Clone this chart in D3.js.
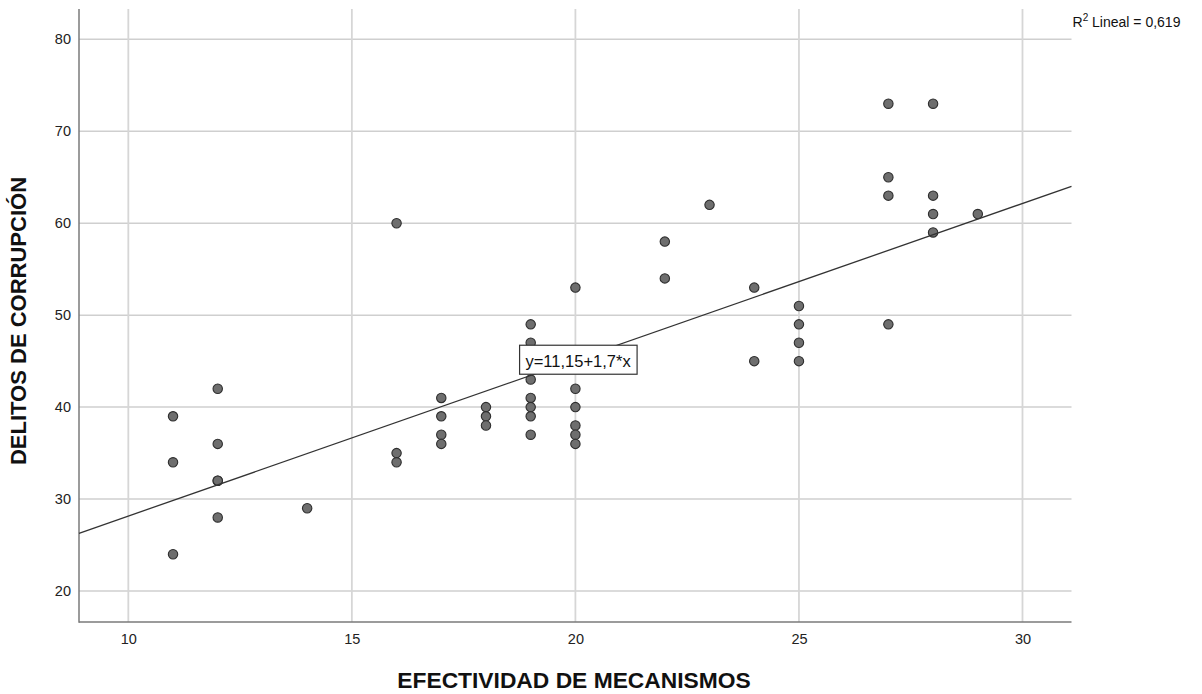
<!DOCTYPE html>
<html>
<head>
<meta charset="utf-8">
<script src="https://cdn.jsdelivr.net/npm/d3@7"></script>
<style>
  html, body { margin: 0; padding: 0; background: #fff; }
  svg { display: block; font-family: "Liberation Sans", Arial, sans-serif; }
</style>
</head>
<body>
<svg id="chart" width="1202" height="694"></svg>
<script>
// ---- data ----
const xValues = [11,11,11, 12,12,12,12,12, 14, 16,16,16, 17,17,17,17, 18,18,18,
  19,19,19,19,19,19,19,19, 20,20,20,20,20,20, 22,22, 23, 24,24, 25,25,25,25,
  27,27,27,27, 28,28,28,28, 29];
const yValues = [39,34,24, 42,36,32,32,28, 29, 60,35,34, 41,39,37,36, 40,39,38,
  49,47,45,43,41,40,39,37, 53,42,40,38,37,36, 58,54, 62, 53,45, 51,49,47,45,
  73,65,63,49, 73,63,61,59, 61];
const xTicks = [10, 15, 20, 25, 30];
const yTicks = [20, 30, 40, 50, 60, 70, 80];
const intercept = 11.15;
const slope = 1.7;
const fitLabel = "y=11,15+1,7*x";
const r2Text = "0,619";
const xTitle = "EFECTIVIDAD DE MECANISMOS";
const yTitle = "DELITOS DE CORRUPCIÓN";

(function () {
// ---- layout ----
const svg = d3.select("#chart");
const pLeft = 79, pRight = 1071.5, pTop = 9, pBottom = 622;
const x = d3.scaleLinear().domain([8.897, 31.096]).range([pLeft, pRight]);
const y = d3.scaleLinear().domain([16.63, 83.3]).range([pBottom, pTop]);

// gridlines
const g = svg.append("g");
g.selectAll(".hg").data(yTicks).join("line")
  .attr("x1", pLeft).attr("x2", pRight)
  .attr("y1", d => y(d)).attr("y2", d => y(d))
  .attr("stroke", "#cfcfcf").attr("stroke-width", 1.5);
g.selectAll(".vg").data(xTicks).join("line")
  .attr("x1", d => x(d)).attr("x2", d => x(d))
  .attr("y1", pTop).attr("y2", pBottom)
  .attr("stroke", "#d6d6d6").attr("stroke-width", 1.8);

// axes
const xAxis = d3.axisBottom(x).tickValues(xTicks).tickSize(0).tickPadding(12).tickFormat(d3.format("d"));
const yAxis = d3.axisLeft(y).tickValues(yTicks).tickSize(0).tickPadding(8).tickFormat(d3.format("d"));
const xa = svg.append("g").attr("transform", `translate(0,${pBottom})`).call(xAxis);
const ya = svg.append("g").attr("transform", `translate(${pLeft},0)`).call(yAxis);
[xa, ya].forEach(a => {
  a.select(".domain").remove();
  a.selectAll("text").attr("font-size", 14.5).attr("fill", "#222")
    .attr("font-family", "'Liberation Sans', Arial, sans-serif");
});
svg.append("line").attr("x1", pLeft).attr("x2", pLeft).attr("y1", pTop).attr("y2", pBottom + 0.75)
  .attr("stroke", "#7a7a7a").attr("stroke-width", 1.5);
svg.append("line").attr("x1", pLeft).attr("x2", pRight).attr("y1", pBottom).attr("y2", pBottom)
  .attr("stroke", "#7a7a7a").attr("stroke-width", 1.5);

// points
const pts = xValues.map((v, i) => ({ x: v, y: yValues[i] }));
svg.append("g").selectAll("circle").data(pts).join("circle")
  .attr("cx", d => x(d.x)).attr("cy", d => y(d.y)).attr("r", 4.7)
  .attr("fill", "#6e6e6e").attr("stroke", "#2e2e2e").attr("stroke-width", 1.1);

// fit line
const [x0, x1] = x.domain();
svg.append("line")
  .attr("x1", x(x0)).attr("y1", y(intercept + slope * x0))
  .attr("x2", x(x1)).attr("y2", y(intercept + slope * x1))
  .attr("stroke", "#333").attr("stroke-width", 1.3);

// fit label
const lx = x(20.06), ly = y(45.1);
const lab = svg.append("g");
lab.append("rect")
  .attr("x", lx - 58.5).attr("y", ly - 15).attr("width", 117.5).attr("height", 29)
  .attr("fill", "#fff").attr("stroke", "#333").attr("stroke-width", 1.2);
lab.append("text").attr("x", lx).attr("y", ly + 6.5)
  .attr("text-anchor", "middle").attr("font-size", 16.5).attr("fill", "#111").text(fitLabel);

// R2 text
const r2 = svg.append("text").attr("x", 1072.5).attr("y", 26.5).attr("font-size", 14).attr("fill", "#111");
r2.append("tspan").text("R");
r2.append("tspan").attr("font-size", 10).attr("dy", -6).text("2");
r2.append("tspan").attr("dy", 6).text(" Lineal = " + r2Text);

// titles
svg.append("text").attr("x", 574).attr("y", 688).attr("text-anchor", "middle")
  .attr("font-size", 22.8).attr("font-weight", "bold").attr("fill", "#111").text(xTitle);
svg.append("text").attr("transform", "translate(25.5,321) rotate(-90)").attr("text-anchor", "middle")
  .attr("font-size", 22).attr("font-weight", "bold").attr("fill", "#111").text(yTitle);
})();
</script>
</body>
</html>
